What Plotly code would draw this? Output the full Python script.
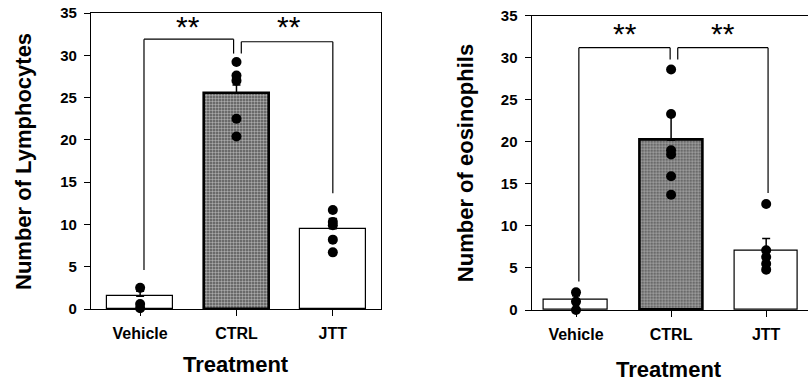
import plotly.graph_objects as go

# ---------------- data ----------------
categories = ["Vehicle", "CTRL", "JTT"]

lym_means = [1.5, 25.5, 9.5]
lym_err = [0.6, 1.0, 1.2]
lym_vehicle = [2.5, 0.6, 0.1]
lym_ctrl = [29.2, 27.6, 27.0, 22.5, 20.4]
lym_jtt = [11.7, 10.3, 9.9, 8.2, 6.7]

eos_means = [1.2, 20.2, 7.0]
eos_err = [0.5, 3.0, 1.5]
eos_vehicle = [2.1, 1.0, 0.0]
eos_ctrl = [28.6, 23.3, 19.0, 18.5, 15.9, 13.7]
eos_jtt = [12.6, 7.1, 6.3, 5.5, 4.8]

y_ticks = [0, 5, 10, 15, 20, 25, 30, 35]

# significance brackets: [left x, middle-left x, middle-right x, right x]
lym_br_x = [0.04, 0.97, 1.05, 2.0]
lym_br_top = [31.9, 31.6]
lym_br_drop = [4.6, 30.2, 30.2, 13.7]
lym_star_x = [0.5, 1.55]
lym_star_y = 33.4

eos_br_x = [0.03, 0.99, 1.07, 2.02]
eos_br_top = [31.2, 31.2]
eos_br_drop = [3.4, 29.8, 29.8, 13.9]
eos_star_x = [0.52, 1.55]
eos_star_y = 32.9

FONT = "Liberation Sans, Arial, sans-serif"

fig = go.Figure()


def add_panel(means, errs, groups, bar_width, xa, ya):
    xs = list(range(len(categories)))
    fig.add_trace(go.Bar(
        x=xs, y=means, width=bar_width,
        marker=dict(
            color=["white", "#555555", "white"],
            line=dict(color="black", width=[1.2, 2.6, 1.2]),
            pattern=dict(shape=["", ".", ""], fgcolor="#f2f2f2",
                         bgcolor="#333333", size=3, solidity=0.5),
        ),
        error_y=dict(type="data", symmetric=False, array=errs,
                     arrayminus=[0] * len(errs), color="black",
                     thickness=1.5, width=4),
        xaxis=xa, yaxis=ya, showlegend=False,
    ))
    px, py = [], []
    for i, g in enumerate(groups):
        px += [i] * len(g)
        py += g
    fig.add_trace(go.Scatter(
        x=px, y=py, mode="markers",
        marker=dict(color="black", size=10, symbol="circle"),
        cliponaxis=False, xaxis=xa, yaxis=ya, showlegend=False,
    ))


def add_brackets(bx, top, drop, xref, yref):
    segs = [
        (bx[0], drop[0], bx[0], top[0]),
        (bx[0], top[0], bx[1], top[0]),
        (bx[1], top[0], bx[1], drop[1]),
        (bx[2], drop[2], bx[2], top[1]),
        (bx[2], top[1], bx[3], top[1]),
        (bx[3], top[1], bx[3], drop[3]),
    ]
    for x0, y0, x1, y1 in segs:
        fig.add_shape(type="line", x0=x0, y0=y0, x1=x1, y1=y1,
                      xref=xref, yref=yref,
                      line=dict(color="black", width=1.2))


add_panel(lym_means, lym_err, [lym_vehicle, lym_ctrl, lym_jtt], 0.68, "x", "y")
add_panel(eos_means, eos_err, [eos_vehicle, eos_ctrl, eos_jtt], 0.67, "x2", "y2")
add_brackets(lym_br_x, lym_br_top, lym_br_drop, "x", "y")
add_brackets(eos_br_x, eos_br_top, eos_br_drop, "x2", "y2")

for sx in lym_star_x:
    fig.add_annotation(x=sx, y=lym_star_y, xref="x", yref="y", text="**",
                       showarrow=False, font=dict(family=FONT, size=30, color="black"))
for sx in eos_star_x:
    fig.add_annotation(x=sx, y=eos_star_y, xref="x2", yref="y2", text="**",
                       showarrow=False, font=dict(family=FONT, size=30, color="black"))

# axis titles
titles = [
    dict(text="Number of Lymphocytes", x=23 / 808, y=0.577, textangle=-90),
    dict(text="Number of eosinophils", x=465 / 808, y=0.574, textangle=-90),
    dict(text="Treatment", x=236 / 808, y=0.048, textangle=0),
    dict(text="Treatment", x=669 / 808, y=0.036, textangle=0),
]
for t in titles:
    fig.add_annotation(x=t["x"], y=t["y"], xref="paper", yref="paper",
                       text=t["text"], textangle=t["textangle"], showarrow=False,
                       xanchor="center", yanchor="middle",
                       font=dict(family=FONT, size=22, color="black", weight="bold"))

xaxis_common = dict(
    tickmode="array", tickvals=[0, 1, 2], ticktext=categories,
    ticks="outside", ticklen=6, tickwidth=1, tickcolor="black",
    showline=True, linecolor="black", linewidth=1.3,
    showgrid=False, zeroline=False, automargin=False,
    tickfont=dict(family=FONT, size=16, color="black", weight="bold"),
    ticklabelstandoff=4,
)
yaxis_common = dict(
    range=[0, 35], tickmode="array", tickvals=y_ticks,
    ticks="outside", ticklen=6, tickwidth=1.2, tickcolor="black",
    showline=True, linecolor="black", linewidth=1.3,
    showgrid=False, zeroline=False, automargin=False,
    tickfont=dict(family=FONT, size=15, color="black", weight="bold"),
    ticklabelstandoff=4,
)

fig.update_layout(
    width=808, height=383, autosize=False,
    margin=dict(l=0, r=0, t=0, b=0, pad=0),
    paper_bgcolor="white", plot_bgcolor="white",
    bargap=0,
    xaxis=dict(xaxis_common, domain=[91 / 808, 381 / 808], range=[-0.51, 2.5],
               mirror=True, anchor="y"),
    yaxis=dict(yaxis_common, domain=[(383 - 309) / 383, (383 - 13) / 383],
               mirror=True, anchor="x"),
    xaxis2=dict(xaxis_common, domain=[531.7 / 808, 1.0], range=[-0.466, 2.44],
                mirror=True, anchor="y2"),
    yaxis2=dict(yaxis_common, domain=[(383 - 310) / 383, (383 - 15.7) / 383],
                mirror=False, anchor="x2"),
)

fig.write_html(
    "out.html",
    config={"displayModeBar": False, "responsive": False},
    post_script="document.body.style.margin='0';document.body.style.padding='0';"
                "document.documentElement.style.overflow='hidden';",
)
